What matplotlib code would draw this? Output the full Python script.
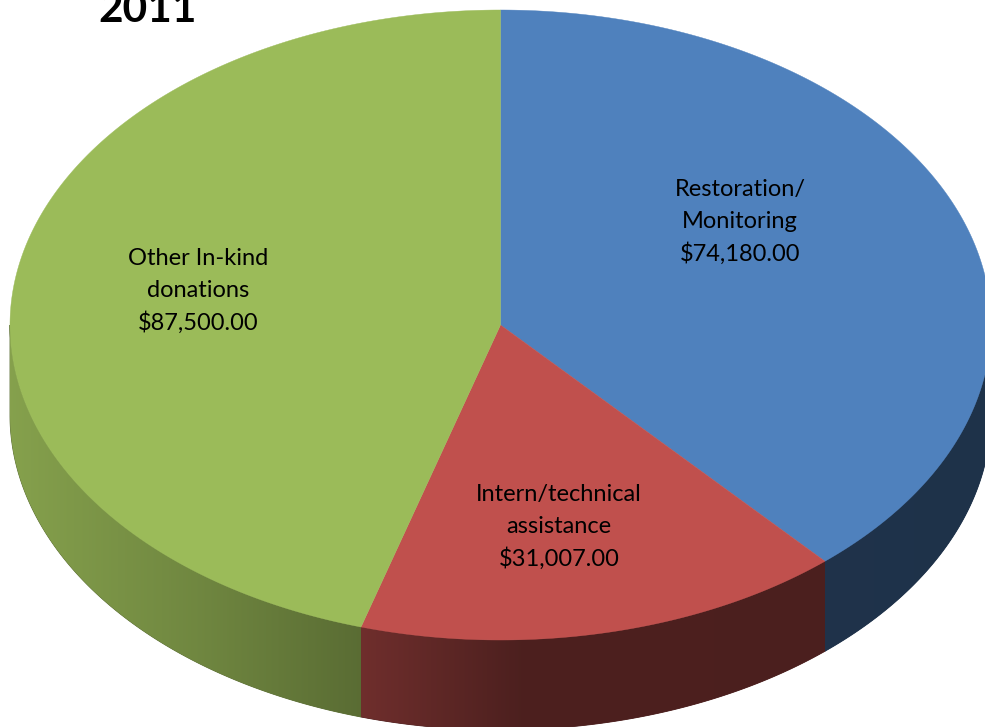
import numpy as np
import matplotlib
matplotlib.use("Agg")
import matplotlib.pyplot as plt
from matplotlib.patches import Polygon

title = "2011"
categories = ["Restoration/\nMonitoring", "Intern/technical\nassistance", "Other In-kind\ndonations"]
values = [74180.00, 31007.00, 87500.00]
top_colors = ["#4F81BD", "#C0504D", "#9BBB59"]
label_pos = [(740, 196), (559, 501), (198, 265)]
line_step = 32.3

cx, cy, rx, ry, depth = 500.5, 325.0, 490.5, 315.0, 90.0
shade_x = [10, 200, 360, 520, 985]
shade_k = [0.86, 0.72, 0.58, 0.40, 0.39]

fig = plt.figure(figsize=(9.85, 7.27), dpi=100, facecolor="white")
ax = fig.add_axes([0, 0, 1, 1])
ax.set_xlim(0, 985)
ax.set_ylim(727, 0)
ax.axis("off")

fractions = np.array(values) / np.sum(values)
edges = np.concatenate([[0], np.cumsum(fractions)]) * 2 * np.pi


def rim(a0, a1, n=600):
    t = np.linspace(a0, a1, n)
    return cx + rx * np.sin(t), cy - ry * np.cos(t)


# side walls (only the part facing the viewer: lower half of the ellipse)
for i, color in enumerate(top_colors):
    a0 = max(edges[i], np.pi / 2)
    a1 = min(edges[i + 1], 3 * np.pi / 2)
    if a1 <= a0:
        continue
    x, y = rim(a0, a1)
    pts = np.column_stack([np.r_[x, x[::-1]], np.r_[y, y[::-1] + depth]])
    rgb = np.array(matplotlib.colors.to_rgb(color))
    xs = np.linspace(x.min(), x.max(), 512)
    k = np.interp(xs, shade_x, shade_k)
    # solid backing closes the hairline seams between neighbouring walls
    ax.add_patch(Polygon(pts, closed=True, facecolor=rgb * k[-1], edgecolor=rgb * k[-1],
                         linewidth=0.6, zorder=0.5))
    patch = Polygon(pts, closed=True, facecolor="none", edgecolor="none")
    ax.add_patch(patch)
    img = (k[:, None] * rgb)[None, :, :]
    im = ax.imshow(img, extent=[x.min(), x.max(), y.max() + depth, y.min()],
                   aspect="auto", interpolation="bilinear", zorder=1)
    im.set_clip_path(patch)
ax.set_xlim(0, 985)
ax.set_ylim(727, 0)

# top faces
for i, color in enumerate(top_colors):
    x, y = rim(edges[i], edges[i + 1])
    ax.fill(np.r_[cx, x], np.r_[cy, y], facecolor=color, edgecolor=color, linewidth=0.3, zorder=2)

# labels, one text per line for even spacing
for cat, val, (lx, ly) in zip(categories, values, label_pos):
    lines = cat.split("\n") + [f"${val:,.2f}"]
    for j, line in enumerate(lines):
        ax.text(lx, ly + j * line_step, line, ha="center", va="baseline", fontsize=17,
                family="Lato", color="black", zorder=3)

ax.text(148, 22, title, ha="center", va="baseline", fontsize=30.5, fontweight="bold",
        family="Lato", color="black", zorder=3)

fig.savefig("out.png", dpi=100, facecolor="white")
